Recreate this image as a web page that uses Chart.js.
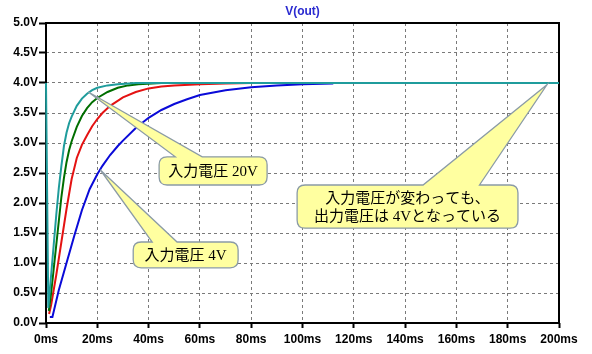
<!DOCTYPE html>
<html><head><meta charset="utf-8">
<script src="https://cdn.jsdelivr.net/npm/chart.js@4.4.0/dist/chart.umd.min.js"></script>
<style>html,body{margin:0;padding:0;background:#fff;}#wrap{width:592px;height:354px;}</style>
</head><body><div id="wrap"><canvas id="c" width="592" height="354"></canvas></div>
<script>
// ---- data (time in ms, voltage in V) ----
const xTickValues = [0,20,40,60,80,100,120,140,160,180,200];
const xTickLabels = ['0ms','20ms','40ms','60ms','80ms','100ms','120ms','140ms','160ms','180ms','200ms'];
const yTickValues = [0,0.5,1,1.5,2,2.5,3,3.5,4,4.5,5];
const yTickLabels = ['0.0V','0.5V','1.0V','1.5V','2.0V','2.5V','3.0V','3.5V','4.0V','4.5V','5.0V'];

const timeTeal = [0,0.9,2,3,4,5,6,7,8,9,10,12,14,16,18,20,24,28,35,200];
const voltTeal = [4.0,0.25,0.8,1.3,1.8,2.25,2.62,2.95,3.17,3.33,3.44,3.62,3.74,3.82,3.88,3.92,3.96,3.98,4.0,4.0];

const timeGreen = [1.1,2,3,4,5,6,7,8,9,10,12,14,16,18,20,24,28,32,36,45,80];
const voltGreen = [0.2,0.5,0.9,1.3,1.7,2.1,2.42,2.68,2.88,3.03,3.27,3.45,3.58,3.68,3.75,3.85,3.92,3.96,3.98,4.0,4.0];

const timeRed = [1.2,2,4,6,8,10,12,14,16,18,20,22,25,30,35,40,45,50,60,70,80,95];
const voltRed = [0.15,0.3,0.8,1.35,1.9,2.4,2.75,2.97,3.13,3.28,3.4,3.5,3.62,3.76,3.85,3.91,3.94,3.96,3.98,3.99,4.0,4.0];

const timeBlue = [1.5,2.5,5,8,11,14,17,20,22,25,28,30,35,40,45,50,55,60,70,80,90,100,112];
const voltBlue = [0.1,0.1,0.55,1.0,1.45,1.88,2.23,2.48,2.62,2.8,2.95,3.04,3.25,3.42,3.55,3.65,3.73,3.8,3.88,3.93,3.96,3.98,3.99];

const seriesNames = ['入力電圧 20V','series2','series3','入力電圧 4V'];
const titleText = 'V(out)';

function pts(t, v){ return t.map((x,i)=>({x:x, y:v[i]})); }

// callouts: box in data coords, wedge base (time) and tip (data coords)
const callouts = [
  {lines:['入力電圧 20V'], t0:44.1, t1:86.2, vTop:2.77, vBot:2.30, b0:50.4, b1:60.9, tipT:16.5, tipV:3.85},
  {lines:['入力電圧 4V'], t0:34.0, t1:74.9, vTop:1.35, vBot:0.92, b0:41.4, b1:51.1, tipT:21.2, tipV:2.55},
  {lines:['入力電圧が変わっても、','出力電圧は 4Vとなっている'], t0:97.9, t1:184.0, vTop:2.30, vBot:1.58, b0:147, b1:169, tipT:195.3, tipV:3.97}
];

const framePlugin = {
  id:'frame',
  beforeDatasetsDraw(chart){
    const {ctx, chartArea:a} = chart;
    ctx.save();
    ctx.strokeStyle = '#000';
    ctx.lineWidth = 2;
    ctx.strokeRect(a.left, a.top, a.right - a.left, a.bottom - a.top);
    ctx.restore();
  },
  afterDraw(chart){
    const {ctx, chartArea:a} = chart;
    ctx.save();
    ctx.fillStyle = '#2a2ad0';
    ctx.font = 'bold 12px "Liberation Sans", Arial, sans-serif';
    ctx.textAlign = 'center';
    ctx.textBaseline = 'middle';
    ctx.fillText(titleText, (a.left + a.right)/2, 12);
    ctx.restore();
  }
};

const calloutPlugin = {
  id:'callouts',
  afterDatasetsDraw(chart){
    const {ctx, scales:{x, y}} = chart;
    ctx.save();
    callouts.forEach(c=>{
      const L = x.getPixelForValue(c.t0), R = x.getPixelForValue(c.t1);
      const T = y.getPixelForValue(c.vTop), B = y.getPixelForValue(c.vBot);
      const b1 = x.getPixelForValue(c.b0), b2 = x.getPixelForValue(c.b1);
      const tx = x.getPixelForValue(c.tipT), ty = y.getPixelForValue(c.tipV);
      const r = 8;
      ctx.beginPath();
      ctx.moveTo(L + r, T);
      ctx.lineTo(b1, T);
      ctx.lineTo(tx, ty);
      ctx.lineTo(b2, T);
      ctx.lineTo(R - r, T);
      ctx.quadraticCurveTo(R, T, R, T + r);
      ctx.lineTo(R, B - r);
      ctx.quadraticCurveTo(R, B, R - r, B);
      ctx.lineTo(L + r, B);
      ctx.quadraticCurveTo(L, B, L, B - r);
      ctx.lineTo(L, T + r);
      ctx.quadraticCurveTo(L, T, L + r, T);
      ctx.closePath();
      ctx.fillStyle = '#ffffa0';
      ctx.fill();
      ctx.strokeStyle = '#8b9ba6';
      ctx.lineWidth = 1.3;
      ctx.stroke();
      ctx.fillStyle = '#000';
      ctx.font = '15px "Liberation Serif", "Noto Sans CJK JP", serif';
      ctx.textAlign = 'center';
      ctx.textBaseline = 'middle';
      const cx = (L + R)/2, cy = (T + B)/2;
      const lh = 18;
      const n = c.lines.length;
      c.lines.forEach((s,i)=>{
        ctx.fillText(s, cx, cy + (i - (n-1)/2)*lh + 1);
      });
    });
    ctx.restore();
  }
};

const tickFont = {family:'"Liberation Sans", Arial, sans-serif', size:12, weight:'bold'};

new Chart(document.getElementById('c'), {
  type:'line',
  data:{
    datasets:[
      {label:seriesNames[0], data:pts(timeTeal, voltTeal), borderColor:'#1f9c9c', borderWidth:2, pointRadius:0, tension:0, clip:4},
      {label:seriesNames[1], data:pts(timeGreen, voltGreen), borderColor:'#006e00', borderWidth:2, pointRadius:0, tension:0, clip:4},
      {label:seriesNames[2], data:pts(timeRed, voltRed), borderColor:'#e41212', borderWidth:2, pointRadius:0, tension:0, clip:4},
      {label:seriesNames[3], data:pts(timeBlue, voltBlue), borderColor:'#0a0ad8', borderWidth:2, pointRadius:0, tension:0, clip:4}
    ]
  },
  options:{
    responsive:false,
    animation:false,
    devicePixelRatio:1,
    layout:{padding:{top:23, right:33, left:0, bottom:0}},
    plugins:{legend:{display:false}, tooltip:{enabled:false}, title:{display:false}},
    scales:{
      x:{
        type:'linear', min:0, max:200,
        afterBuildTicks(s){ s.ticks = xTickValues.map(v=>({value:v})); },
        afterFit(s){ s.height = 31; },
        ticks:{font:tickFont, color:'#000', padding:4, maxRotation:0, autoSkip:false,
          callback:(v)=>xTickLabels[xTickValues.indexOf(v)]},
        grid:{color:'#7a7a7a', lineWidth:1, tickLength:5, tickColor:'#000', tickWidth:2},
        border:{display:false, dash:[3,3]}
      },
      y:{
        type:'linear', min:0, max:5,
        afterBuildTicks(s){ s.ticks = yTickValues.map(v=>({value:v})); },
        afterFit(s){ s.width = 46; },
        ticks:{font:tickFont, color:'#000', padding:1, autoSkip:false,
          callback:(v)=>yTickLabels[yTickValues.indexOf(v)]},
        grid:{color:'#7a7a7a', lineWidth:1, tickLength:7, tickColor:'#000', tickWidth:2},
        border:{display:false, dash:[3,3]}
      }
    }
  },
  plugins:[framePlugin, calloutPlugin]
});
</script>
</body></html>
